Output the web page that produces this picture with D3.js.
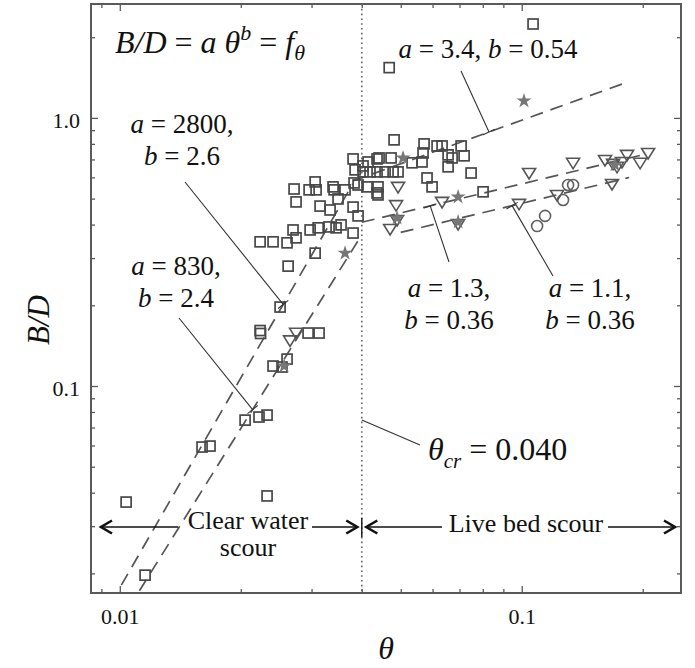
<!DOCTYPE html>
<html>
<head>
<meta charset="utf-8">
<script src="https://cdn.jsdelivr.net/npm/d3@7"></script>
<style>
  body { margin: 0; background: #fff; }
  text { font-family: "Liberation Serif", "Times New Roman", serif; fill: #111; }
</style>
</head>
<body>
<svg id="chart" width="695" height="668"></svg>
<script>
// ---- Observations: [theta, B/D] ----
const squares = [
  [0.1067, 2.24], [0.0468, 1.54],
  [0.01156, 0.0197], [0.01037, 0.0369], [0.02325, 0.0389],
  [0.01602, 0.0592], [0.01677, 0.0597],
  [0.0205, 0.0746], [0.0222, 0.0766], [0.02325, 0.0779],
  [0.02406, 0.1187], [0.02533, 0.1177], [0.02607, 0.126],
  [0.02234, 0.161], [0.02240, 0.157], [0.02941, 0.1576], [0.03132, 0.1576],
  [0.02505, 0.197], [0.02623, 0.280], [0.03062, 0.313],
  [0.02234, 0.345], [0.02406, 0.345], [0.02607, 0.342], [0.02745, 0.357],
  [0.02698, 0.382], [0.02975, 0.382], [0.03115, 0.389], [0.03316, 0.392],
  [0.03452, 0.389], [0.03552, 0.399], [0.03805, 0.372],
  [0.03805, 0.465], [0.03916, 0.431], [0.0315, 0.469], [0.03335, 0.4535], [0.03491, 0.4985],
  [0.02714, 0.543], [0.02745, 0.486], [0.02958, 0.539], [0.03062, 0.577], [0.03079, 0.539],
  [0.03393, 0.553], [0.03413, 0.539], [0.03634, 0.539],
  [0.03805, 0.703], [0.03849, 0.640], [0.03827, 0.572], [0.03916, 0.562], [0.04029, 0.662],
  [0.04122, 0.553], [0.04146, 0.685], [0.04365, 0.703], [0.04365, 0.525], [0.0439, 0.553],
  [0.0439, 0.516], [0.04029, 0.629], [0.04193, 0.629], [0.04365, 0.629], [0.04571, 0.629],
  [0.04731, 0.709], [0.04416, 0.709], [0.04786, 0.629], [0.04924, 0.629], [0.04813, 0.828],
  [0.05335, 0.680], [0.05649, 0.685], [0.05682, 0.740], [0.05715, 0.800],
  [0.06157, 0.786], [0.06336, 0.786], [0.06558, 0.728], [0.0671, 0.709], [0.06558, 0.657],
  [0.07066, 0.786], [0.07188, 0.722], [0.07482, 0.623], [0.05813, 0.597], [0.05983, 0.553],
  [0.08013, 0.530]
];
const triangles = [
  [0.02652, 0.148], [0.02745, 0.158],
  [0.04924, 0.553], [0.04868, 0.473], [0.06336, 0.486], [0.04896, 0.416], [0.04704, 0.385],
  [0.06945, 0.402], [0.09846, 0.478], [0.1043, 0.623], [0.1224, 0.516], [0.1342, 0.680],
  [0.1611, 0.697], [0.1677, 0.567], [0.1687, 0.674], [0.1726, 0.657], [0.1776, 0.685],
  [0.1828, 0.728], [0.197, 0.680], [0.2062, 0.740]
];
const circles = [
  [0.1304, 0.562], [0.1342, 0.562], [0.1267, 0.494], [0.1143, 0.431], [0.1092, 0.395]
];
const stars = [
  [0.1013, 1.157], [0.03634, 0.313], [0.02563, 0.1187], [0.05067, 0.709],
  [0.06945, 0.507], [0.04896, 0.423], [0.06945, 0.409], [0.1706, 0.668]
];

// ---- Power-law fits B/D = a * theta^b ----
const fitA    = [2800, 830, 3.4, 1.3, 1.1];
const fitB    = [2.6, 2.4, 0.54, 0.36, 0.36];
const fitFrom = [0.0095, 0.0105, 0.038, 0.040, 0.050];
const fitTo   = [0.038, 0.040, 0.185, 0.200, 0.185];
const aLabels = ["2800", "830", "3.4", "1.3", "1.1"];
const bLabels = ["2.6", "2.4", "0.54", "0.36", "0.36"];
const leaderTheta = [0.0255, 0.0214, 0.0829, 0.0592, 0.0946];

const thetaCr = 0.040;

// ---- Axis ticks ----
const xMajor = [0.01, 0.1];
const xMajorLabels = ["0.01", "0.1"];
const xMinor = [0.009, 0.02, 0.03, 0.04, 0.05, 0.06, 0.07, 0.08, 0.09, 0.2];
const yMajor = [0.1, 1];
const yMajorLabels = ["0.1", "1.0"];
const yMinor = [0.02, 0.03, 0.04, 0.05, 0.06, 0.07, 0.08, 0.09,
                0.2, 0.3, 0.4, 0.5, 0.6, 0.7, 0.8, 0.9, 2];

// ---- Layout ----
const L = 91, R = 681, T = 4, B = 593;
const svg = d3.select("#chart");
const x = d3.scaleLog().domain([0.00848, 0.249]).range([L, R]);
const y = d3.scaleLog().domain([0.0169, 2.66]).range([B, T]);
const frameColor = "#5a5a5a";

svg.append("defs").append("clipPath").attr("id", "plotclip")
  .append("rect").attr("x", L).attr("y", T).attr("width", R - L).attr("height", B - T);

// ticks (all pointing inward)
function styleAxis(g) {
  g.select(".domain").remove();
  g.selectAll(".tick line").attr("stroke", frameColor).attr("stroke-width", 1.3);
}
const fmtX = d => xMajorLabels[xMajor.indexOf(d)];
const fmtY = d => yMajorLabels[yMajor.indexOf(d)];

svg.append("g").attr("transform", `translate(0,${B})`)
  .call(d3.axisBottom(x).tickValues(xMajor).tickSize(-7).tickPadding(15).tickFormat(fmtX))
  .call(styleAxis)
  .call(g => g.selectAll("text").attr("font-size", 22).attr("font-family", "Liberation Serif, serif").attr("fill", "#111"));
svg.append("g").attr("transform", `translate(0,${B})`)
  .call(d3.axisBottom(x).tickValues(xMinor).tickSize(-4).tickFormat(""))
  .call(styleAxis);
svg.append("g").attr("transform", `translate(0,${T})`)
  .call(d3.axisTop(x).tickValues(xMajor).tickSize(-7).tickFormat(""))
  .call(styleAxis);
svg.append("g").attr("transform", `translate(0,${T})`)
  .call(d3.axisTop(x).tickValues(xMinor).tickSize(-4).tickFormat(""))
  .call(styleAxis);

svg.append("g").attr("transform", `translate(${L},0)`)
  .call(d3.axisLeft(y).tickValues(yMajor).tickSize(-7).tickPadding(11).tickFormat(fmtY))
  .call(styleAxis)
  .call(g => g.selectAll("text").attr("font-size", 22).attr("font-family", "Liberation Serif, serif").attr("fill", "#111").attr("dy", "0.45em"));
svg.append("g").attr("transform", `translate(${L},0)`)
  .call(d3.axisLeft(y).tickValues(yMinor).tickSize(-4).tickFormat(""))
  .call(styleAxis);
svg.append("g").attr("transform", `translate(${R},0)`)
  .call(d3.axisRight(y).tickValues(yMajor).tickSize(-7).tickFormat(""))
  .call(styleAxis);
svg.append("g").attr("transform", `translate(${R},0)`)
  .call(d3.axisRight(y).tickValues(yMinor).tickSize(-4).tickFormat(""))
  .call(styleAxis);

// frame
svg.append("rect").attr("x", L).attr("y", T).attr("width", R - L).attr("height", B - T)
  .attr("fill", "none").attr("stroke", frameColor).attr("stroke-width", 2);

// axis titles
svg.append("text").attr("x", 386).attr("y", 659).attr("text-anchor", "middle")
  .attr("font-size", 32).attr("font-style", "italic").text("θ");
svg.append("text").attr("transform", "translate(49,320) rotate(-90)").attr("text-anchor", "middle")
  .attr("font-size", 31).attr("font-style", "italic").text("B/D");

// critical Shields parameter
svg.append("line").attr("x1", x(thetaCr)).attr("x2", x(thetaCr)).attr("y1", T).attr("y2", B)
  .attr("stroke", "#666").attr("stroke-width", 1.6).attr("stroke-dasharray", "1.6,3.2");

const plot = svg.append("g").attr("clip-path", "url(#plotclip)");

// fitted power laws
const fitFn = (i, t) => fitA[i] * Math.pow(t, fitB[i]);
fitA.forEach((a, i) => {
  plot.append("line")
    .attr("x1", x(fitFrom[i])).attr("y1", y(fitFn(i, fitFrom[i])))
    .attr("x2", x(fitTo[i])).attr("y2", y(fitFn(i, fitTo[i])))
    .attr("stroke", "#555").attr("stroke-width", 1.7).attr("stroke-dasharray", "13,8");
});

// markers
const mk = plot.append("g");
mk.selectAll("rect.sq").data(squares).join("rect").attr("class", "sq")
  .attr("x", d => x(d[0]) - 5).attr("y", d => y(d[1]) - 5).attr("width", 10).attr("height", 10)
  .attr("fill", "none").attr("stroke", "#474747").attr("stroke-width", 1.7);
mk.selectAll("path.tri").data(triangles).join("path").attr("class", "tri")
  .attr("d", "M-6.5,-4.5L6.5,-4.5L0,6Z")
  .attr("transform", d => `translate(${x(d[0])},${y(d[1])})`)
  .attr("fill", "none").attr("stroke", "#555").attr("stroke-width", 1.6);
mk.selectAll("circle.ci").data(circles).join("circle").attr("class", "ci")
  .attr("cx", d => x(d[0])).attr("cy", d => y(d[1])).attr("r", 5.5)
  .attr("fill", "none").attr("stroke", "#606060").attr("stroke-width", 1.6);
mk.selectAll("path.st").data(stars).join("path").attr("class", "st")
  .attr("d", d3.symbol(d3.symbolStar, 70))
  .attr("transform", d => `translate(${x(d[0])},${y(d[1])})`)
  .attr("fill", "#777").attr("stroke", "none");

// annotation text with italic variable names
function eqLine(g, cx, by, parts, size) {
  const t = g.append("text").attr("x", cx).attr("y", by).attr("text-anchor", "middle").attr("font-size", size);
  parts.forEach(p => {
    const s = t.append("tspan").text(p[0]);
    if (p[1]) s.attr("font-style", "italic");
  });
  return t;
}
const ann = svg.append("g");
// label anchor boxes for each fit: [centerX, firstBaseline, leaderStartX, leaderStartY]
const labelBoxes = [[182, 133, 185, 182], [176, 275, 179, 318], [488, 58, 461, 71], [449, 297, 449, 262], [590, 297, 553, 276]];
fitA.forEach((a, i) => {
  const [cx, by, sx, sy] = labelBoxes[i];
  if (i === 2) {
    eqLine(ann, cx, by, [["a", 1], [" = " + aLabels[i] + ", "], ["b", 1], [" = " + bLabels[i]]], 27);
  } else {
    eqLine(ann, cx, by, [["a", 1], [" = " + aLabels[i] + ","]], 27);
    eqLine(ann, cx, by + 32, [["b", 1], [" = " + bLabels[i]]], 27);
  }
  // leader to the fitted line with a short cross mark
  const ex = x(leaderTheta[i]), ey = y(fitFn(i, leaderTheta[i]));
  ann.append("line").attr("x1", sx).attr("y1", sy).attr("x2", ex).attr("y2", ey)
    .attr("stroke", "#333").attr("stroke-width", 1.1);
  const dx = ex - sx, dy = ey - sy, len = Math.hypot(dx, dy);
  const px = -dy / len * 6.5, py = dx / len * 6.5;
  ann.append("line").attr("x1", ex - px).attr("y1", ey - py).attr("x2", ex + px).attr("y2", ey + py)
    .attr("stroke", "#333").attr("stroke-width", 1.1);
});

// governing relation
const rel = ann.append("text").attr("x", 115).attr("y", 53).attr("font-size", 32);
rel.append("tspan").attr("font-style", "italic").text("B/D");
rel.append("tspan").text(" = ");
rel.append("tspan").attr("font-style", "italic").text("a θ");
rel.append("tspan").attr("font-style", "italic").attr("font-size", 22).attr("dy", -13).text("b");
rel.append("tspan").attr("dy", 13).text(" = ");
rel.append("tspan").attr("font-style", "italic").text("f");
rel.append("tspan").attr("font-style", "italic").attr("font-size", 22).attr("dy", 7).text("θ");

// theta_cr label and leader
const crY = 0.0747;
ann.append("line").attr("x1", x(thetaCr)).attr("y1", y(crY)).attr("x2", 420).attr("y2", 445)
  .attr("stroke", "#333").attr("stroke-width", 1.1);
const cr = ann.append("text").attr("x", 428).attr("y", 460).attr("font-size", 32);
cr.append("tspan").attr("font-style", "italic").text("θ");
cr.append("tspan").attr("font-style", "italic").attr("font-size", 21).attr("dy", 8).text("cr");
cr.append("tspan").attr("dy", -8).text(" = 0.040");

// regime arrows
const ay = 527;
function arrowHead(xTip, dir) {
  ann.append("path")
    .attr("d", `M${xTip + dir * 11},${ay - 6.5}L${xTip},${ay}L${xTip + dir * 11},${ay + 6.5}`)
    .attr("fill", "none").attr("stroke", "#111").attr("stroke-width", 2.6).attr("stroke-linejoin", "miter");
}
function hline(x1, x2) {
  ann.append("line").attr("x1", x1).attr("x2", x2).attr("y1", ay).attr("y2", ay)
    .attr("stroke", "#111").attr("stroke-width", 1.6);
}
const xc = x(thetaCr);
hline(101, 178); arrowHead(101, 1);
hline(312, xc - 5); arrowHead(xc - 4.5, -1);
ann.append("line").attr("x1", xc).attr("x2", xc).attr("y1", 518).attr("y2", 537)
  .attr("stroke", "#111").attr("stroke-width", 1.4);
hline(xc + 4, 442); arrowHead(xc + 4.5, 1);
hline(608, 675); arrowHead(675, -1);

ann.append("text").attr("x", 248).attr("y", 529).attr("text-anchor", "middle").attr("font-size", 26).text("Clear water");
ann.append("text").attr("x", 248).attr("y", 556).attr("text-anchor", "middle").attr("font-size", 26).text("scour");
ann.append("text").attr("x", 526).attr("y", 532).attr("text-anchor", "middle").attr("font-size", 26).text("Live bed scour");
</script>
</body>
</html>
